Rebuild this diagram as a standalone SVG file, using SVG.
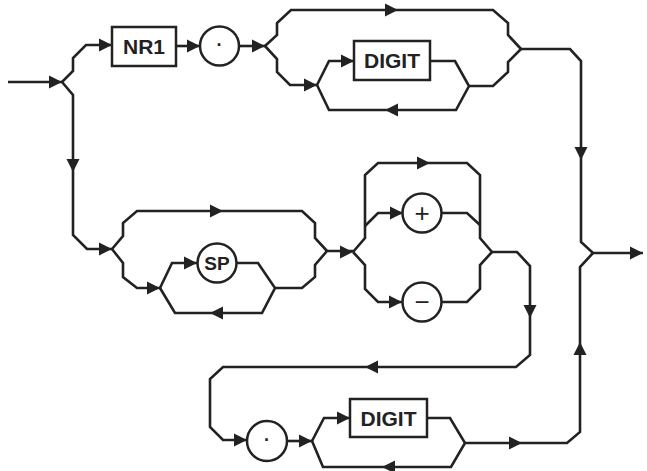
<svg xmlns="http://www.w3.org/2000/svg" xmlns:xlink="http://www.w3.org/1999/xlink" width="647" height="471" viewBox="0 0 647 471">
<style>
.ln{fill:none;stroke:#222;stroke-width:2.6;stroke-linejoin:miter}
.bx{fill:#fff;stroke:#222;stroke-width:2.5}
.ar{fill:#222}
.lb{font-family:"Liberation Sans",Arial,sans-serif;font-weight:bold;font-size:21px;fill:#222;text-anchor:middle}
.sy{font-family:"Liberation Sans",Arial,sans-serif;font-size:26px;fill:#222;text-anchor:middle}
</style>
<defs>
<path id="ar" d="M0,0 L-13,-6.5 L-13,6.5 Z"/>
</defs>
<rect width="647" height="471" fill="#fff"/>
<g id="connectors">
<path class="ln" d="M8,82 H62"/>
<path class="ln" d="M62,82 L73,71 V58 L86,45 H112"/>
<path class="ln" d="M176,46 H200"/>
<path class="ln" d="M239,46 H265"/>
<path class="ln" d="M265,46 L277,35 V23 L291,10 H493 L508,23 V35 L521,49"/>
<path class="ln" d="M265,46 L277,59 V72 L290,85 H317"/>
<path class="ln" d="M317,85 L329,61 H354"/>
<path class="ln" d="M430,61 H455 L469,86 L456,110 H329 L317,85"/>
<path class="ln" d="M469,86 H493 L508,72 V62 L521,49"/>
<path class="ln" d="M521,49 H570 L581,61 V242 L593,253 H643"/>
<path class="ln" d="M593,253 L580,267 V432 L567,443 H465"/>
<path class="ln" d="M62,82 L73,95 V235 L87,249 H112"/>
<path class="ln" d="M112,249 L123,236 V223 L137,211 H302 L315,223 V238 L327,251"/>
<path class="ln" d="M112,249 L123,263 V277 L137,288 H160"/>
<path class="ln" d="M160,288 L172,263 H197"/>
<path class="ln" d="M237,263 H258 L275,288 L262,313 H175 L160,288"/>
<path class="ln" d="M275,288 H302 L315,277 V265 L327,251 H353"/>
<path class="ln" d="M353,252 L365,238 V175 L378,163 H467 L480,175 V238 L492,252"/>
<path class="ln" d="M365,226 L378,213 H403"/>
<path class="ln" d="M441,213 H467 L480,225"/>
<path class="ln" d="M353,252 L365,265 V289 L378,302 H402"/>
<path class="ln" d="M441,302 H467 L480,289 V265 L492,252"/>
<path class="ln" d="M492,252 H517 L530,266 V355 L516,367 H223 L210,379 V427 L223,440 H247"/>
<path class="ln" d="M287,441 H312"/>
<path class="ln" d="M312,441 L324,418 H350"/>
<path class="ln" d="M427,418 H450 L465,443 L451,467 H323 L312,441"/>
<g class="ar">
<use xlink:href="#ar" transform="translate(62,82)"/>
<use xlink:href="#ar" transform="translate(112,45)"/>
<use xlink:href="#ar" transform="translate(200,46)"/>
<use xlink:href="#ar" transform="translate(265,46)"/>
<use xlink:href="#ar" transform="translate(398,10)"/>
<use xlink:href="#ar" transform="translate(317,85)"/>
<use xlink:href="#ar" transform="translate(354,61)"/>
<use xlink:href="#ar" transform="translate(385,110) rotate(180)"/>
<use xlink:href="#ar" transform="translate(581,160) rotate(90)"/>
<use xlink:href="#ar" transform="translate(643,253)"/>
<use xlink:href="#ar" transform="translate(580,342) rotate(-90)"/>
<use xlink:href="#ar" transform="translate(522,443)"/>
<use xlink:href="#ar" transform="translate(73,172) rotate(90)"/>
<use xlink:href="#ar" transform="translate(112,249)"/>
<use xlink:href="#ar" transform="translate(223,211)"/>
<use xlink:href="#ar" transform="translate(160,288)"/>
<use xlink:href="#ar" transform="translate(197,263)"/>
<use xlink:href="#ar" transform="translate(210,313) rotate(180)"/>
<use xlink:href="#ar" transform="translate(353,252)"/>
<use xlink:href="#ar" transform="translate(430,163)"/>
<use xlink:href="#ar" transform="translate(403,213)"/>
<use xlink:href="#ar" transform="translate(402,302)"/>
<use xlink:href="#ar" transform="translate(530,318) rotate(90)"/>
<use xlink:href="#ar" transform="translate(365,367) rotate(180)"/>
<use xlink:href="#ar" transform="translate(247,440)"/>
<use xlink:href="#ar" transform="translate(312,441)"/>
<use xlink:href="#ar" transform="translate(350,418)"/>
<use xlink:href="#ar" transform="translate(382,467) rotate(180)"/>
</g>
</g>
<g id="nr1"><rect class="bx" x="112" y="27" width="64" height="39"/><text class="lb" x="144" y="54">NR1</text></g>
<g id="dot1"><circle class="bx" cx="219.5" cy="46" r="19.5"/><text class="lb" x="219.5" y="51" style="font-size:18px">·</text></g>
<g id="digit1"><rect class="bx" x="354" y="41" width="76" height="39"/><text class="lb" x="392" y="68">DIGIT</text></g>
<g id="sp"><circle class="bx" cx="217" cy="263" r="19.5"/><text class="lb" x="217" y="270" style="font-size:19px">SP</text></g>
<g id="plus"><circle class="bx" cx="422" cy="213" r="19.5"/><text class="sy" x="422" y="222">+</text></g>
<g id="minus"><circle class="bx" cx="422" cy="302" r="19.5"/><text class="sy" x="422" y="311">−</text></g>
<g id="dot2"><circle class="bx" cx="267" cy="441" r="20"/><text class="lb" x="267" y="446" style="font-size:18px">·</text></g>
<g id="digit2"><rect class="bx" x="350" y="399" width="77" height="38"/><text class="lb" x="388.5" y="425.5">DIGIT</text></g>
</svg>
